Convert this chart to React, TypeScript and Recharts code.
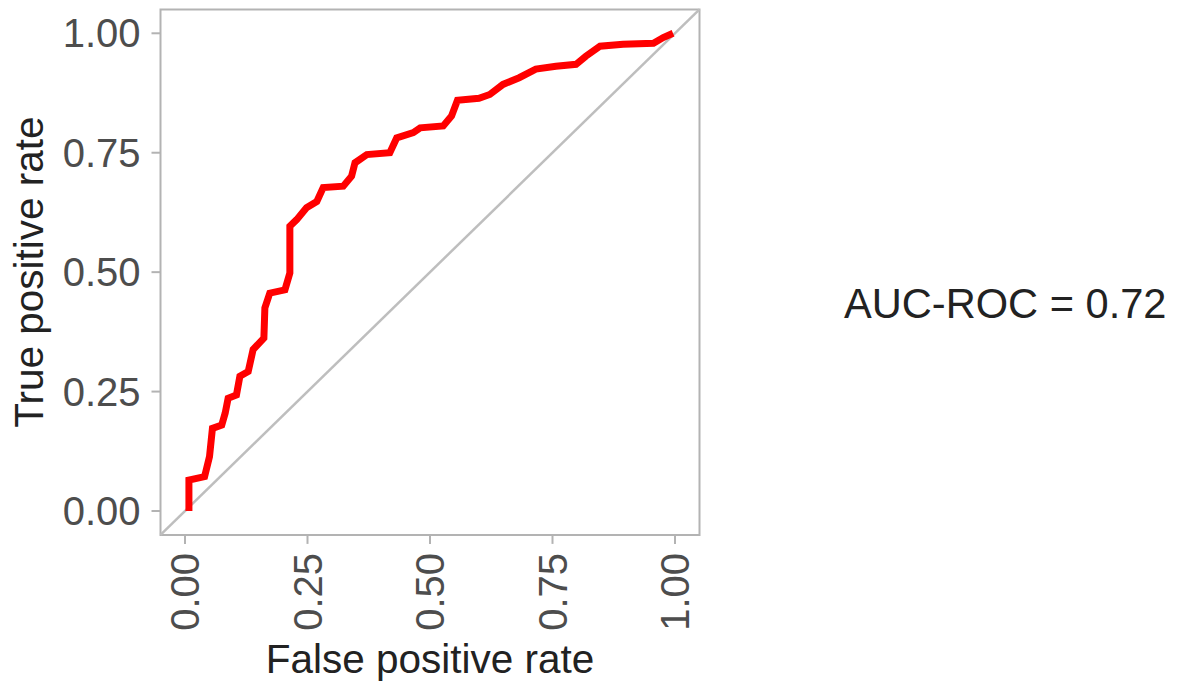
import React from 'react';
import { LineChart, Line, XAxis, YAxis, ReferenceLine, ReferenceArea } from 'recharts';

// ROC curve points
const fpr = [
  0.008, 0.008, 0.04, 0.05, 0.056, 0.075, 0.082, 0.088, 0.105, 0.112, 0.129, 0.139, 0.161, 0.163, 0.173,
  0.204, 0.214, 0.214, 0.228, 0.248, 0.269, 0.282, 0.323, 0.34, 0.347, 0.371, 0.418, 0.432, 0.466, 0.48,
  0.527, 0.544, 0.556, 0.6, 0.622, 0.649, 0.682, 0.716, 0.757, 0.798, 0.818, 0.847, 0.894, 0.956, 0.976, 0.996,
];
const tpr = [
  0.0, 0.065, 0.072, 0.114, 0.173, 0.18, 0.205, 0.236, 0.243, 0.282, 0.292, 0.338, 0.362, 0.425, 0.456,
  0.463, 0.498, 0.596, 0.61, 0.635, 0.648, 0.677, 0.68, 0.701, 0.729, 0.746, 0.75, 0.781, 0.792, 0.802,
  0.806, 0.827, 0.86, 0.864, 0.872, 0.893, 0.907, 0.925, 0.931, 0.935, 0.952, 0.973, 0.977, 0.979, 0.991, 1.0,
];
const ticks = [0, 0.25, 0.5, 0.75, 1];
const domain: [number, number] = [-0.05, 1.05];
const aucLabel = 'AUC-ROC = 0.72';

const roc = fpr.map((x, i) => ({ fpr: x, tpr: tpr[i] }));

const font = '"Liberation Sans", Arial, sans-serif';

const XTick = (props: any) => {
  const { x, y, payload } = props;
  return (
    <g transform={`translate(${x},${y})`}>
      <text
        transform="rotate(-90)"
        textAnchor="end"
        dy="0.355em"
        fontSize={40}
        fontFamily={font}
        fill="#4d4d4d"
      >
        {payload.value.toFixed(2)}
      </text>
    </g>
  );
};

const App = () => {
  return (
    <div style={{ position: 'absolute', left: 0, top: 0, width: 1179, height: 682, background: '#fff' }}>
      <LineChart
        width={1179}
        height={682}
        margin={{ top: 9.4, right: 479.5, bottom: 0, left: 0 }}
      >
        <ReferenceArea
          x1={domain[0]}
          x2={domain[1]}
          y1={domain[0]}
          y2={domain[1]}
          fill="none"
          stroke="#b3b3b3"
          strokeWidth={2}
        />
        <XAxis
          type="number"
          dataKey="fpr"
          domain={domain}
          ticks={ticks}
          allowDataOverflow
          axisLine={false}
          tickLine={{ stroke: '#b3b3b3', strokeWidth: 2 }}
          tickSize={9}
          tickMargin={9}
          height={147.1}
          tick={<XTick />}
          label={{
            content: (p: any) => (
              <text
                x={p.viewBox.x + p.viewBox.width / 2}
                y={673}
                textAnchor="middle"
                fontSize={40.5}
                fontFamily={font}
                fill="#222"
              >
                False positive rate
              </text>
            ),
          }}
        />
        <YAxis
          type="number"
          dataKey="tpr"
          domain={domain}
          ticks={ticks}
          allowDataOverflow
          axisLine={false}
          tickLine={{ stroke: '#b3b3b3', strokeWidth: 2 }}
          tickSize={9}
          tickMargin={11}
          width={160.5}
          tickFormatter={(v: number) => v.toFixed(2)}
          tick={{ fontSize: 40, fontFamily: font, fill: '#4d4d4d' }}
          label={{
            content: (p: any) => {
              const cy = p.viewBox.y + p.viewBox.height / 2;
              return (
                <text
                  transform={`translate(43,${cy}) rotate(-90)`}
                  textAnchor="middle"
                  fontSize={40.5}
                  fontFamily={font}
                  fill="#222"
                >
                  True positive rate
                </text>
              );
            },
          }}
        />
        <ReferenceLine
          segment={[
            { x: domain[0], y: domain[0] },
            { x: domain[1], y: domain[1] },
          ]}
          stroke="#bebebe"
          strokeWidth={2.5}
        />
        <Line
          data={roc}
          dataKey="tpr"
          type="linear"
          stroke="#ff0000"
          strokeWidth={7}
          dot={false}
          isAnimationActive={false}
        />
      </LineChart>
      <div
        style={{
          position: 'absolute',
          left: 844,
          top: 283,
          fontFamily: font,
          fontSize: 41.6,
          lineHeight: '41.6px',
          color: '#222',
          whiteSpace: 'nowrap',
        }}
      >
        {aucLabel}
      </div>
    </div>
  );
};

export default App;
